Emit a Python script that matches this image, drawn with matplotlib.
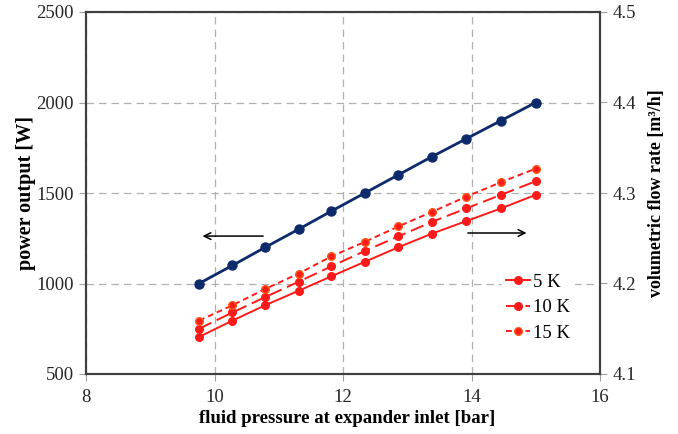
import matplotlib
matplotlib.use("Agg")
import matplotlib.pyplot as plt

plt.rcParams['font.family'] = ['Liberation Serif', 'DejaVu Serif']

# fluid pressure at expander inlet [bar]
pressure = [9.76, 10.28, 10.79, 11.31, 11.82, 12.34, 12.86, 13.38, 13.92, 14.46, 15.00]

# power output [W]
power = [1000, 1100, 1200, 1300, 1400, 1500, 1600, 1700, 1800, 1900, 2000]

# volumetric flow rate [m3/h] per superheating level
flow_5K = [4.141, 4.159, 4.176, 4.192, 4.208, 4.224, 4.240, 4.255, 4.269, 4.283, 4.298]
flow_10K = [4.150, 4.168, 4.185, 4.202, 4.219, 4.236, 4.252, 4.268, 4.283, 4.298, 4.313]
flow_15K = [4.159, 4.176, 4.194, 4.211, 4.230, 4.246, 4.263, 4.279, 4.296, 4.312, 4.327]

series_labels = ['5 K', '10 K', '15 K']
x_ticks = [8, 10, 12, 14, 16]
left_ticks = [500, 1000, 1500, 2000, 2500]
right_ticks = [4.1, 4.2, 4.3, 4.4, 4.5]

navy = '#0d2a6b'
red = '#ff1a1a'
frame_col = '#404040'
tick_col = '#a0a0a0'

fig = plt.figure(figsize=(6.78, 4.34), dpi=100)
ax = fig.add_axes([86 / 678, 1 - 374 / 434, 514 / 678, 362 / 434])
ax2 = ax.twinx()

ax.set_xlim(8, 16)
ax.set_ylim(500, 2500)
ax2.set_ylim(4.1, 4.5)
ax.set_xticks(x_ticks)
ax.set_yticks(left_ticks)
ax2.set_yticks(right_ticks)
ax.set_xticklabels([str(t) for t in x_ticks])
ax.set_yticklabels([str(t) for t in left_ticks])
ax2.set_yticklabels([f'{t:.1f}' for t in right_ticks])

for a in (ax, ax2):
    a.tick_params(axis='both', labelsize=13.5, color=tick_col, length=5,
                  width=0.8, labelcolor='#262626', pad=4)
    for s in a.spines.values():
        s.set_color(frame_col)
        s.set_linewidth(1.5)
ax.tick_params(axis='x', pad=6)

ax.grid(True, color='#b0b0b0', linestyle=(0, (6, 4)), linewidth=0.9)
ax.set_axisbelow(True)

# power output curve on the left axis
ax.plot(pressure, power, color=navy, linewidth=2.0, marker='o',
        markersize=6.5, zorder=3)

# flow rate curves on the right axis
l5, = ax2.plot(pressure, flow_5K, color=red, linewidth=1.4, linestyle='-',
               marker='o', markersize=5.5)
l10, = ax2.plot(pressure, flow_10K, color=red, linewidth=1.4,
                linestyle=(0, (7, 3)), marker='o', markersize=5.5)
l15, = ax2.plot(pressure, flow_15K, color=red, linewidth=1.4,
                linestyle=(0, (3, 2)), marker='o', markersize=5.5,
                markeredgecolor='#ff5a1a')

# arrows pointing to the axis each curve belongs to
ax.annotate('', xy=(9.77, 1262), xytext=(10.80, 1262),
            arrowprops=dict(arrowstyle='->', color='black', lw=1.1,
                            mutation_scale=12))
ax.annotate('', xy=(14.90, 1279), xytext=(13.90, 1279),
            arrowprops=dict(arrowstyle='->', color='black', lw=1.1,
                            mutation_scale=12))

leg = ax2.legend([l5, l10, l15], series_labels, loc='upper left',
                 bbox_to_anchor=(502 / 678, 1 - 270 / 434),
                 bbox_transform=fig.transFigure, frameon=True,
                 fontsize=13.5, handlelength=1.3, handletextpad=0.15,
                 labelspacing=0.45, borderpad=0.2, borderaxespad=0)
leg.get_frame().set_facecolor('white')
leg.get_frame().set_edgecolor('white')
leg.get_frame().set_alpha(1)

ax.set_xlabel('fluid pressure at expander inlet [bar]', fontsize=13.5,
              fontweight='bold', labelpad=3)
ax.xaxis.label.set_x(0.508)
ax.set_ylabel('power output [W]', fontsize=14.5, fontweight='bold',
              labelpad=0)
ax2.set_ylabel('volumetric flow rate [m³/h]', fontsize=13, fontweight='bold',
               rotation=90, labelpad=9)

fig.savefig('out.png', dpi=100, facecolor='white')
